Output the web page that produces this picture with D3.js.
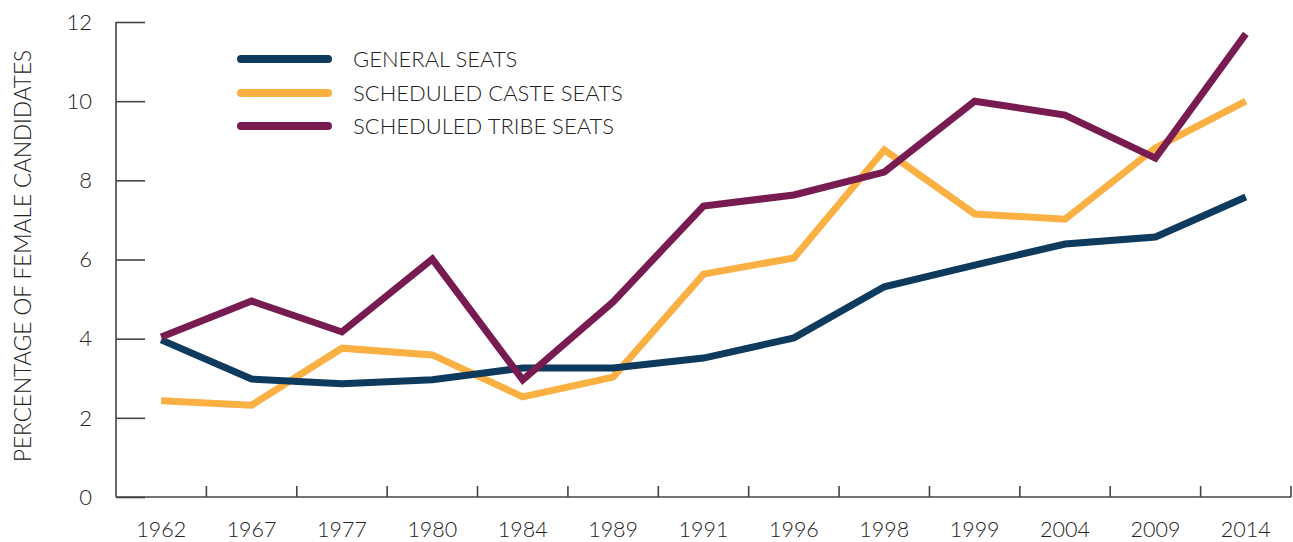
<!DOCTYPE html>
<html>
<head>
<meta charset="utf-8">
<script src="https://cdn.jsdelivr.net/npm/d3@7"></script>
<style>
  body { margin: 0; background: #fff; }
  svg text { font-family: Lato, "Open Sans", sans-serif; font-weight: 300; fill: #222; }
</style>
</head>
<body>
<div id="chart"></div>
<script>
// election years (categories)
var years = ["1962", "1967", "1977", "1980", "1984", "1989", "1991", "1996", "1998", "1999", "2004", "2009", "2014"];

// percentage of female candidates per seat type
var generalSeats = [3.97, 2.98, 2.86, 2.96, 3.26, 3.26, 3.51, 4.02, 5.31, 5.86, 6.39, 6.57, 7.58];
var casteSeats   = [2.43, 2.32, 3.76, 3.59, 2.53, 3.03, 5.63, 6.04, 8.77, 7.15, 7.02, 8.82, 10.0];
var tribeSeats   = [4.04, 4.95, 4.17, 6.01, 2.96, 4.93, 7.35, 7.63, 8.21, 10.0, 9.65, 8.56, 11.7];

var seriesNames = ["GENERAL SEATS", "SCHEDULED CASTE SEATS", "SCHEDULED TRIBE SEATS"];
var yTicks = [0, 2, 4, 6, 8, 10, 12];

var W = 1293, H = 542;
var plotLeft = 116, plotRight = 1291, plotTop = 22, plotBottom = 497;

var colors = ["#0e3a5e", "#fbb044", "#771b50"];

var svg = d3.select('#chart').append('svg')
	.attr('width', W)
	.attr('height', H);

var x = d3.scaleBand()
	.domain(years)
	.range([plotLeft, plotRight]);

var y = d3.scaleLinear()
	.domain([0, 12])
	.range([plotBottom, plotTop]);

// y axis, ticks point inward
var yAxis = svg.append('g')
	.attr('transform', 'translate(' + plotLeft + ',0)')
	.call(d3.axisRight(y).tickValues(yTicks).tickSize(29).tickFormat(''));
yAxis.select('.domain').remove();
yAxis.selectAll('.tick line').attr('stroke', '#444').attr('stroke-width', 1.6);
svg.append('line')
	.attr('x1', plotLeft).attr('x2', plotLeft)
	.attr('y1', plotTop).attr('y2', plotBottom)
	.attr('stroke', '#444').attr('stroke-width', 1.6);

svg.selectAll('.ylab')
	.data(yTicks)
	.enter()
	.append('text')
	.attr('x', 92)
	.attr('y', function(d) { return y(d); })
	.attr('dy', '0.35em')
	.attr('text-anchor', 'end')
	.style('font-size', '22px')
	.text(function(d) { return d; });

// x axis: ticks between bands, pointing up
var xTickPos = years.slice(1).map(function(d) { return x(d); }).concat([plotRight]);
svg.append('line')
	.attr('x1', plotLeft).attr('x2', plotRight)
	.attr('y1', plotBottom).attr('y2', plotBottom)
	.attr('stroke', '#444').attr('stroke-width', 1.6);
svg.selectAll('.xtick')
	.data(xTickPos)
	.enter()
	.append('line')
	.attr('x1', function(d) { return d; })
	.attr('x2', function(d) { return d; })
	.attr('y1', plotBottom)
	.attr('y2', plotBottom - 11)
	.attr('stroke', '#444').attr('stroke-width', 1.6);

svg.selectAll('.xlab')
	.data(years)
	.enter()
	.append('text')
	.attr('x', function(d) { return x(d) + x.bandwidth() / 2; })
	.attr('y', 537)
	.attr('text-anchor', 'middle')
	.style('font-size', '21.5px')
	.text(function(d) { return d; });

// y title
svg.append('text')
	.attr('transform', 'translate(31,256) rotate(-90)')
	.attr('text-anchor', 'middle')
	.style('font-size', '22.5px')
	.text('PERCENTAGE OF FEMALE CANDIDATES');

// lines
var line = d3.line()
	.x(function(d, i) { return x(years[i]) + x.bandwidth() / 2; })
	.y(function(d) { return y(d); });

var allSeries = [generalSeats, casteSeats, tribeSeats];
// draw order: caste below, general, tribe on top
[1, 0, 2].forEach(function(k) {
	svg.append('path')
		.datum(allSeries[k])
		.attr('d', line)
		.attr('fill', 'none')
		.attr('stroke', colors[k])
		.attr('stroke-width', 7)
		.attr('stroke-linejoin', 'miter');
});

// legend
var legendY = [59, 93, 126];
seriesNames.forEach(function(name, i) {
	svg.append('line')
		.attr('x1', 241).attr('x2', 328)
		.attr('y1', legendY[i]).attr('y2', legendY[i])
		.attr('stroke', colors[i])
		.attr('stroke-width', 8)
		.attr('stroke-linecap', 'round');
	svg.append('text')
		.attr('x', 353)
		.attr('y', legendY[i])
		.attr('dy', '0.35em')
		.style('font-size', '22px')
		.text(name);
});
</script>
</body>
</html>
